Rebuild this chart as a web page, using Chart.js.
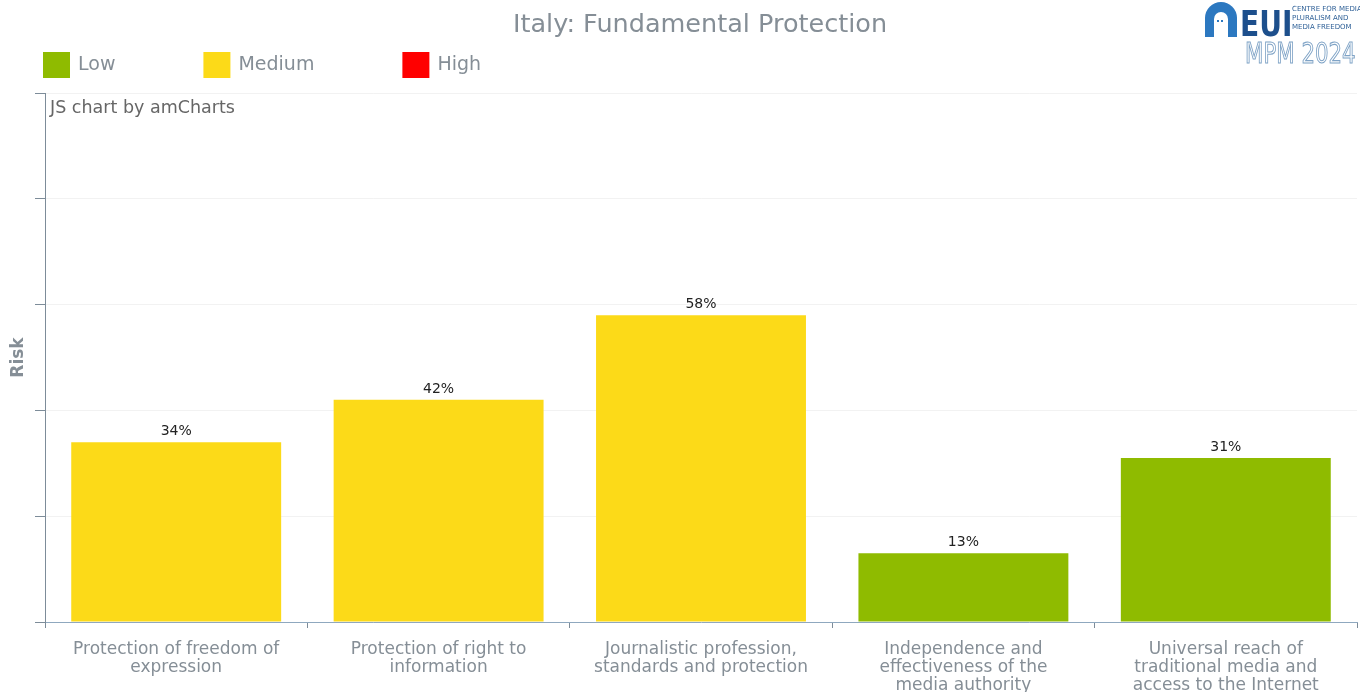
<!DOCTYPE html>
<html>
<head>
<meta charset="utf-8">
<script src="https://cdn.jsdelivr.net/npm/chart.js@4.4.1/dist/chart.umd.min.js"></script>
<style>
  html, body { margin: 0; padding: 0; background: #fff; }
  canvas { display: block; }
</style>
</head>
<body>
<canvas id="riskChart" width="1360" height="692"></canvas>
<script>
// categories (wrapped onto lines), risk scores in %, y ticks
const categories = [
  ["Protection of freedom of", "expression"],
  ["Protection of right to", "information"],
  ["Journalistic profession,", "standards and protection"],
  ["Independence and", "effectiveness of the", "media authority"],
  ["Universal reach of", "traditional media and", "access to the Internet"]
];
const riskValues = [34, 42, 58, 13, 31];
const yTicks = [0, 20, 40, 60, 80, 100];
const riskLevels = ["Low", "Medium", "High"];
const riskColors = ["#8fbb00", "#fcda18", "#ff0000"];

const FONT = "'DejaVu Sans', Verdana, sans-serif";
const GREY = "#858e96";
const AXIS = "#7d8c99";

// 0-33 low, 34-66 medium, above that high
function levelOf(v) {
  if (v <= 33) return 0;
  if (v <= 66) return 1;
  return 2;
}

// title, legend, watermark, logo and value labels
const overlay = {
  id: "overlay",
  afterDraw(chart) {
    const ctx = chart.ctx;
    ctx.save();

    // title
    ctx.fillStyle = GREY;
    ctx.font = "25.5px " + FONT;
    ctx.textAlign = "center";
    ctx.textBaseline = "middle";
    ctx.fillText("Italy: Fundamental Protection", 700, 25);

    // legend
    ctx.font = "19px " + FONT;
    ctx.textAlign = "left";
    let x = 43;
    riskLevels.forEach((lbl, i) => {
      ctx.fillStyle = riskColors[i];
      ctx.fillRect(x, 52, 27, 26);
      ctx.fillStyle = GREY;
      ctx.fillText(lbl, x + 35, 65);
      x += 35 + ctx.measureText(lbl).width + 88;
    });

    // watermark
    ctx.font = "17.5px " + FONT;
    ctx.fillStyle = "#666";
    ctx.fillText("JS chart by amCharts", 50, 108);

    // value labels
    const meta = chart.getDatasetMeta(0);
    ctx.font = "14px " + FONT;
    ctx.fillStyle = "#222";
    ctx.textAlign = "center";
    ctx.textBaseline = "alphabetic";
    meta.data.forEach((bar, i) => {
      ctx.fillText(riskValues[i] + "%", bar.x, bar.y - 7);
    });

    // EUI logo
    ctx.textAlign = "left";
    ctx.fillStyle = "#2c78c0";
    ctx.beginPath();
    ctx.moveTo(1205, 37);
    ctx.lineTo(1205, 18);
    ctx.arc(1221, 18, 16, Math.PI, 0);
    ctx.lineTo(1237, 37);
    ctx.closePath();
    ctx.fill();
    ctx.fillStyle = "#fff";
    ctx.beginPath();
    ctx.moveTo(1214, 37);
    ctx.lineTo(1214, 19);
    ctx.arc(1221, 19, 7, Math.PI, 0);
    ctx.lineTo(1228, 37);
    ctx.closePath();
    ctx.fill();
    ctx.fillStyle = "#2c78c0";
    ctx.fillRect(1217, 20, 2, 2);
    ctx.fillRect(1221, 20, 2, 2);

    ctx.save();
    ctx.translate(1240, 36);
    ctx.scale(0.78, 1);
    ctx.fillStyle = "#1d4f8c";
    ctx.font = "bold 36px " + FONT;
    ctx.fillText("EUI", 0, 0);
    ctx.restore();

    ctx.font = "7px " + FONT;
    ctx.fillStyle = "#2d5f96";
    ctx.fillText("CENTRE FOR MEDIA", 1292, 11);
    ctx.fillText("PLURALISM AND", 1292, 20);
    ctx.fillText("MEDIA FREEDOM", 1292, 29);

    ctx.save();
    ctx.translate(1245, 63);
    ctx.scale(0.82, 1.1);
    ctx.font = "26px " + FONT;
    ctx.strokeStyle = "#7fa3c6";
    ctx.lineWidth = 1;
    ctx.strokeText("MPM 2024", 0, 0);
    ctx.restore();

    ctx.restore();
  }
};

new Chart(document.getElementById("riskChart"), {
  type: "bar",
  data: {
    labels: categories,
    datasets: [{
      label: "Risk",
      data: riskValues,
      backgroundColor: riskValues.map(v => riskColors[levelOf(v)]),
      borderWidth: 0,
      barPercentage: 0.8,
      categoryPercentage: 1
    }]
  },
  options: {
    responsive: false,
    animation: false,
    layout: { padding: { top: 93, right: 3, left: 0, bottom: 0 } },
    plugins: {
      legend: { display: false },
      tooltip: { enabled: false }
    },
    scales: {
      x: {
        offset: true,
        grid: {
          offset: true,
          drawOnChartArea: false,
          tickLength: 6,
          tickColor: AXIS
        },
        border: { color: "#8fa8bf" },
        ticks: {
          font: { family: FONT, size: 17, lineHeight: 1.06 },
          color: GREY,
          padding: 13,
          maxRotation: 0,
          autoSkip: false
        },
        afterFit(s) { s.height = 70; }
      },
      y: {
        min: yTicks[0],
        max: yTicks[yTicks.length - 1],
        afterBuildTicks(s) { s.ticks = yTicks.map(v => ({ value: v })); },
        ticks: { display: false },
        grid: {
          color: "rgba(0,0,0,0.05)",
          tickColor: AXIS,
          tickLength: 10
        },
        border: { color: AXIS },
        title: {
          display: true,
          text: "Risk",
          color: GREY,
          font: { family: FONT, size: 17, weight: "bold" },
          padding: { top: 8, bottom: 0 }
        },
        afterFit(s) { s.width = 45; }
      }
    }
  },
  plugins: [overlay]
});
</script>
</body>
</html>
